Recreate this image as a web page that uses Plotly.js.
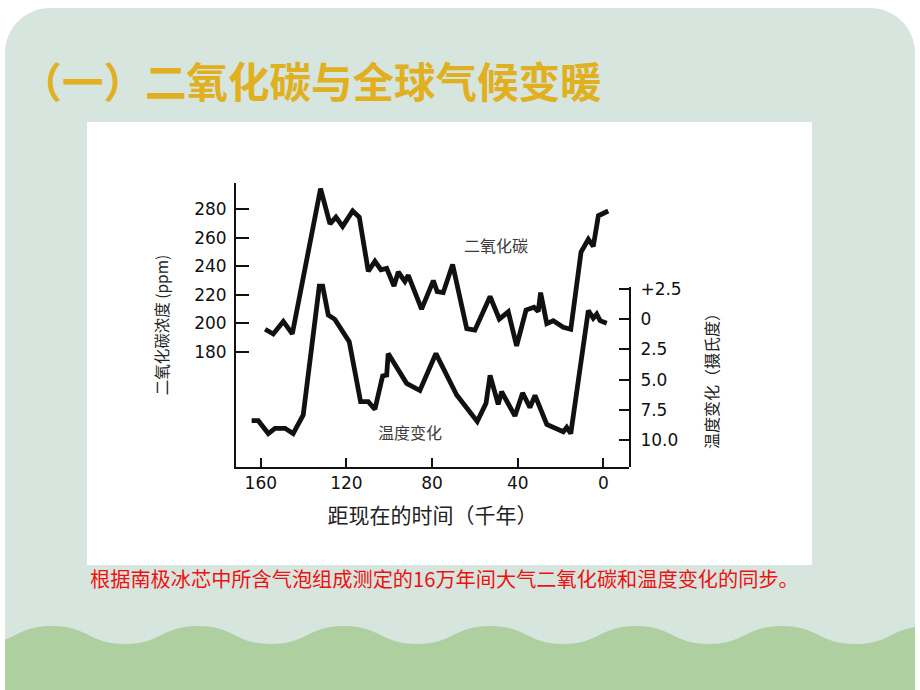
<!DOCTYPE html>
<html><head><meta charset="utf-8">
<script src="https://cdn.plot.ly/plotly-3.0.1.min.js"></script>
<style>
html,body{margin:0;padding:0;width:920px;height:690px;overflow:hidden;background:#fff;}
#panel{position:absolute;left:5px;top:8px;width:910px;height:700px;background:#d6e5dd;border-radius:45px 45px 0 0;overflow:hidden;}
#wave{position:absolute;left:0;top:590px;}
#imgbox{position:absolute;left:87px;top:122px;width:725px;height:443px;background:#fff;}
#chart{position:absolute;left:0;top:0;width:920px;height:690px;}
</style></head>
<body>
<div id="panel"><svg id="wave" width="910" height="110"><path id="wavepath" fill="#aecfa0"/></svg></div>
<div id="imgbox"></div>
<div id="chart"></div>
<script>
// ---- data ----
const co2Time = [158.0,154.2,149.5,145.3,132.1,127.7,124.9,121.8,117.1,114.0,109.8,106.7,103.9,101.2,97.8,95.8,92.7,91.1,84.9,79.4,77.6,74.8,70.4,63.8,60.0,52.9,48.6,44.4,40.5,36.1,32.4,30.4,29.3,26.4,23.4,20.2,18.7,15.2,10.4,7.0,4.7,2.3,-2.3];
const co2Ppm  = [195.8,192.5,201.3,192.6,294.5,269.8,274.5,268.0,278.8,274.5,236.5,243.5,237.6,238.6,226.2,236.0,229.4,233.7,210.0,230.0,222.2,221.5,241.2,196.2,195.2,218.8,203.0,208.1,184.2,209.3,211.2,208.3,221.5,199.8,201.8,199.0,197.2,195.8,250.0,259.0,254.0,275.5,278.8];
const tempTime = [164.3,161.2,156.5,153.4,148.7,144.9,140.2,132.7,131.1,128.5,125.4,122.2,118.7,113.4,109.8,106.7,103.1,101.2,100.5,91.9,85.7,78.2,68.5,58.9,54.8,52.9,49.1,47.5,41.3,37.7,34.3,31.9,26.4,18.7,17.1,15.2,7.0,4.7,3.1,1.5,-1.6];
const tempVal  = [-8.39,-8.39,-9.45,-9.02,-9.02,-9.45,-7.92,2.7,2.7,0.33,-0.03,-0.91,-1.87,-6.82,-6.82,-7.45,-4.70,-4.62,-2.85,-5.31,-5.9,-2.85,-6.27,-8.45,-6.96,-4.65,-7.05,-6.0,-8.0,-6.1,-7.3,-6.3,-8.7,-9.3,-8.94,-9.45,0.7,0.06,0.4,-0.14,-0.35];
const xTicks = [160,120,80,40,0];
const co2Ticks = [180,200,220,240,260,280];
const tempTickVals = [2.5,0,-2.5,-5,-7.5,-10];
const tempTickText = ['+2.5','0','2.5','5.0','7.5','10.0'];
const slideTitle = '（一）二氧化碳与全球气候变暖';
const caption = '根据南极冰芯中所含气泡组成测定的16万年间大气二氧化碳和温度变化的同步。';
const xTitle = '距现在的时间（千年）';
const co2Title = '二氧化碳浓度 (ppm)';
const tempTitle = '温度变化（摄氏度）';
const co2Label = '二氧化碳';
const tempLabel = '温度变化';

// decorative wave at the bottom of the slide
(function(){
  const per = 146, amp = 18, top = 28, x0 = 193 - 3*per;
  let d = 'M' + x0 + ' ' + top;
  for (let x = x0; x < 1000; x += per) {
    d += ' C' + (x+per/4) + ' ' + top + ' ' + (x+per/4) + ' ' + (top+amp) + ' ' + (x+per/2) + ' ' + (top+amp);
    d += ' C' + (x+3*per/4) + ' ' + (top+amp) + ' ' + (x+3*per/4) + ' ' + top + ' ' + (x+per) + ' ' + top;
  }
  d += ' L1100 200 L-500 200 Z';
  document.getElementById('wavepath').setAttribute('d', d);
})();

const CJK = 'Noto Sans CJK SC';
const traces = [
  {x: co2Time, y: co2Ppm, type:'scatter', mode:'lines', yaxis:'y',
   line:{color:'#111', width:4.8}, hoverinfo:'skip'},
  {x: tempTime, y: tempVal, type:'scatter', mode:'lines', yaxis:'y3',
   line:{color:'#111', width:4.8}, hoverinfo:'skip'},
  // empty trace that registers the right-hand temperature scale (yaxis2)
  {x: [], y: [], type:'scatter', mode:'lines', yaxis:'y2', hoverinfo:'skip'}
];
const axCommon = {showgrid:false, zeroline:false, showline:true, linecolor:'#111', linewidth:2,
  ticks:'inside', tickcolor:'#111', tickwidth:2, tickfont:{family:'DejaVu Sans', size:17, color:'#111'}};
const layout = {
  width:920, height:690,
  paper_bgcolor:'rgba(0,0,0,0)', plot_bgcolor:'rgba(0,0,0,0)',
  margin:{l:236, r:291, t:183, b:223, pad:0},
  showlegend:false,
  title:{text:slideTitle, x:20.5/920, xanchor:'left', y:1-83/690, yanchor:'middle',
         font:{family:CJK, size:41.5, color:'#e0b020', weight:'bold'}},
  xaxis: Object.assign({}, axCommon, {range:[171.6,-12.0], tickmode:'array', tickvals:xTicks, ticklen:9,
         title:{text:xTitle, standoff:16, font:{family:CJK, size:21, color:'#222'}}}),
  yaxis: Object.assign({}, axCommon, {range:[99.16,298.46], tickmode:'array', tickvals:co2Ticks, ticklen:13,
         ticklabelstandoff:4,
         title:{text:co2Title, standoff:22, font:{family:CJK, size:15.5, color:'#222'}}}),
  yaxis2: Object.assign({}, axCommon, {domain:[0,0.634], anchor:'x', side:'right', range:[-12.21,2.64],
         tickmode:'array', tickvals:tempTickVals, ticktext:tempTickText, ticklen:10, ticklabelstandoff:6,
         title:{text:tempTitle, standoff:26, font:{family:CJK, size:16, color:'#222'}}}),
  yaxis3: {overlaying:'y', range:[-12.21,11.22], visible:false, showgrid:false, zeroline:false},
  annotations:[
    {text:co2Label, xref:'x', yref:'y', x:50.1, y:254.9, showarrow:false,
     font:{family:CJK, size:16, color:'#3a3a3a'}},
    {text:tempLabel, xref:'x', yref:'y', x:90.3, y:123.7, showarrow:false,
     font:{family:CJK, size:16, color:'#3a3a3a'}},
    {text:caption, xref:'paper', yref:'paper', x:(88-236)/393, y:(467-578)/284, xanchor:'left', yanchor:'middle',
     showarrow:false, font:{family:CJK, size:20.2, color:'#ee1111'}}
  ]
};
Plotly.newPlot('chart', traces, layout, {staticPlot:true, displayModeBar:false});
</script>
</body></html>
